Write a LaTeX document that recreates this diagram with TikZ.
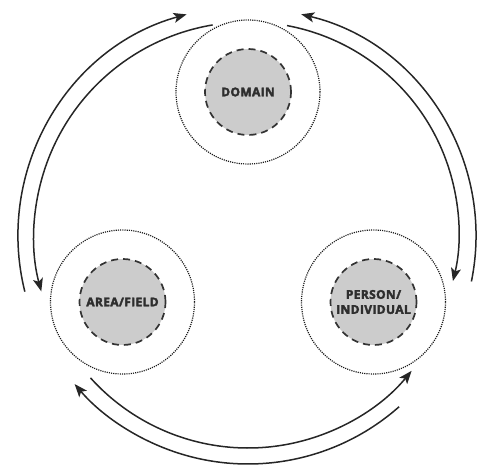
\documentclass[tikz,border=0pt]{standalone}
\usepackage{fontspec}
\setmainfont{Open Sans}
\newfontfamily\realmfont{Open Sans}[FakeBold=3, LetterSpace=3]
\usetikzlibrary{arrows.meta,calc}
\begin{document}
\begin{tikzpicture}[x=1pt,y=1pt,
  halo/.style={circle, draw=black!90, line width=1.2pt, dash pattern=on 1.1pt off 1.1pt, minimum size=144pt, inner sep=0pt},
  core/.style={circle, draw=black!80, fill=black!20, line width=1.7pt, dash pattern=on 7pt off 5pt, minimum size=86pt, inner sep=0pt,
    font=\realmfont\fontsize{12pt}{15pt}\selectfont\bfseries, text=black!82, align=center},
  flow/.style={line width=1.5pt, draw=black!85, -{Stealth[length=13pt,width=10pt,inset=3pt]}}
]
\useasboundingbox (0,0) rectangle (478,473);
\coordinate (O) at (248,237);

% three realms, each a dashed core inside a dotted halo
\node[halo] (domH) at (248,381) {};
\node[halo] (areaH) at (122.5,171) {};
\node[halo] (persH) at (373.5,171) {};
\node[core] (dom) at (248,381) {DOMAIN};
\node[core] (area) at (122.5,171) {AREA/FIELD};
\node[core] (pers) at (373.5,171) {PERSON/\\INDIVIDUAL};

% domain <-> area/field
\draw[flow] ($(O)+(194:230)$) arc[start angle=194, end angle=105.5, radius=230];
\draw[flow] ($(O)+(99.5:214)$) arc[start angle=99.5, end angle=195, radius=214];
% domain <-> person/individual
\draw[flow] ($(O)+(-11.5:228)$) arc[start angle=-11.5, end angle=76.5, radius=228];
\draw[flow] ($(O)+(79.5:214)$) arc[start angle=79.5, end angle=-13.5, radius=210];
% area/field <-> person/individual
\draw[flow] ($(O)+(222:212)$) arc[start angle=222, end angle=320.5, radius=212];
\draw[flow] ($(O)+(311.5:228)$) arc[start angle=311.5, end angle=220.5, radius=228];
\end{tikzpicture}
\end{document}
